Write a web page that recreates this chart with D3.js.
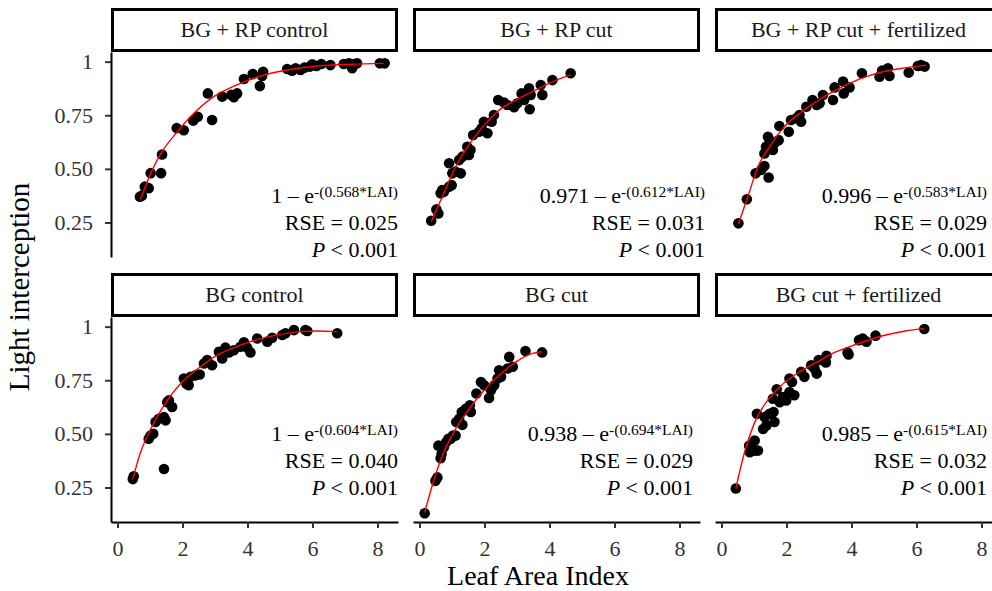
<!DOCTYPE html>
<html>
<head>
<meta charset="utf-8">
<script src="https://cdn.jsdelivr.net/npm/d3@7"></script>
<style>
    body { margin: 0; background: #fff; }
    svg { display: block; font-family: "Liberation Serif", "Times New Roman", serif; }
</style>
</head>
<body>
<svg id="chart" width="992" height="591"></svg>
<script>
// panel titles, in reading order
var panelTitles = ["BG + RP control", "BG + RP cut", "BG + RP cut + fertilized",
                   "BG control", "BG cut", "BG cut + fertilized"];

// fit annotations
var eqConst = ["1", "0.971", "0.996", "1", "0.938", "0.985"];
var eqRate = ["0.568", "0.612", "0.583", "0.604", "0.694", "0.615"];
var rseText = ["0.025", "0.031", "0.029", "0.040", "0.029", "0.032"];

// axis ticks
var xTicks = [0, 2, 4, 6, 8];
var yTicks = [0.25, 0.5, 0.75, 1];
var yTickLabels = ["0.25", "0.50", "0.75", "1"];

// observed points (LAI, light interception) per panel
var lai1 = [0.69, 0.75, 0.84, 0.96, 1.02, 1.34, 1.37, 1.82, 2.04, 2.33, 2.47, 2.78, 2.91, 3.22, 3.5, 3.58, 3.68, 3.89, 4.16, 4.38, 4.48, 4.45,
            5.22, 5.37, 5.48, 5.63, 5.75, 5.92, 5.99, 6.12, 6.27, 6.55, 6.96, 7.12, 7.27, 7.37, 7.22, 8.07, 8.22];
var li1 = [0.37, 0.375, 0.417, 0.41, 0.48, 0.48, 0.567, 0.69, 0.68, 0.725, 0.743, 0.852, 0.728, 0.837, 0.845, 0.834, 0.852, 0.919, 0.942, 0.886, 0.953, 0.933,
           0.966, 0.958, 0.969, 0.961, 0.972, 0.977, 0.988, 0.98, 0.989, 0.984, 0.989, 0.992, 0.989, 0.992, 0.969, 0.992, 0.992];

var lai2 = [0.36, 0.52, 0.58, 0.65, 0.70, 0.75, 0.91, 0.99, 0.91, 1.01, 1.11, 1.27, 1.22, 1.32, 1.47, 1.57, 1.52, 1.65, 1.83, 1.91, 1.98, 2.09,
            2.22, 2.29, 2.42, 2.6, 2.7, 2.91, 3.01, 3.14, 3.22, 3.37, 3.39, 3.42, 3.73, 3.78, 4.09, 4.65];
var li2 = [0.258, 0.311, 0.292, 0.386, 0.401, 0.393, 0.417, 0.424, 0.526, 0.479, 0.487, 0.479, 0.541, 0.557, 0.603, 0.588, 0.565, 0.658, 0.673, 0.689, 0.72, 0.666,
           0.72, 0.751, 0.821, 0.809, 0.798, 0.787, 0.806, 0.852, 0.821, 0.876, 0.778, 0.845, 0.891, 0.845, 0.914, 0.946];

var lai3 = [0.52, 0.78, 1.05, 1.22, 1.32, 1.45, 1.32, 1.37, 1.48, 1.43, 1.63, 1.76, 1.78, 1.58, 2.07, 2.14, 2.3, 2.4, 2.45,
            2.61, 2.8, 2.93, 3.12, 3.02, 3.43, 3.48, 3.74, 3.76, 3.94, 4.32, 4.86, 4.94, 5.12, 5.17, 5.76, 6.04, 6.14, 6.25];
var li3 = [0.246, 0.358, 0.479, 0.495, 0.513, 0.46, 0.572, 0.603, 0.634, 0.65, 0.619, 0.634, 0.7, 0.588, 0.673, 0.728, 0.736, 0.751, 0.72,
           0.79, 0.821, 0.798, 0.844, 0.806, 0.821, 0.88, 0.907, 0.852, 0.88, 0.946, 0.93, 0.958, 0.969, 0.933, 0.949, 0.98, 0.984, 0.977];

var lai4 = [0.47, 0.5, 1.43, 0.96, 1.02, 1.1, 1.17, 1.27, 1.43, 1.48, 1.53, 1.58, 1.68, 2.04, 2.12, 2.19, 2.25, 2.4, 2.53,
            2.66, 2.76, 2.91, 3.12, 3.22, 3.32, 3.43, 3.58, 3.78, 3.89, 3.99, 4.09, 4.3, 4.61, 4.76, 5.07, 5.17, 5.43, 5.78, 5.84, 6.76];
var li4 = [0.289, 0.302, 0.336, 0.477, 0.492, 0.5, 0.555, 0.57, 0.578, 0.563, 0.648, 0.656, 0.625, 0.758, 0.734, 0.727, 0.766, 0.773, 0.777,
           0.828, 0.844, 0.82, 0.883, 0.852, 0.902, 0.88, 0.89, 0.906, 0.927, 0.902, 0.88, 0.945, 0.93, 0.948, 0.961, 0.969, 0.984, 0.984, 0.98, 0.969];

var lai5 = [0.16, 0.49, 0.55, 0.58, 0.65, 0.68, 0.75, 0.82, 0.89, 0.96, 1.03, 1.11, 1.13, 1.22, 1.32, 1.3, 1.42, 1.55, 1.58,
            1.75, 1.89, 1.99, 2.14, 2.2, 2.3, 2.4, 2.51, 2.45, 2.71, 2.76, 2.87, 3.26, 3.77];
var li5 = [0.13, 0.281, 0.297, 0.445, 0.386, 0.406, 0.438, 0.461, 0.477, 0.477, 0.492, 0.492, 0.555, 0.57, 0.542, 0.602, 0.617, 0.633, 0.602,
           0.688, 0.742, 0.727, 0.667, 0.703, 0.727, 0.758, 0.766, 0.797, 0.805, 0.859, 0.813, 0.886, 0.88];

var lai6 = [0.44, 0.87, 0.92, 1.02, 1.12, 0.85, 1.02, 1.09, 1.28, 1.38, 1.33, 1.48, 1.63, 1.6, 1.58, 1.7, 1.79, 1.89, 1.99,
            2.09, 2.17, 2.24, 2.09, 2.45, 2.55, 2.76, 2.86, 2.93, 2.99, 3.23, 3.21, 3.88, 3.91, 4.23, 4.34, 4.46, 4.74, 6.24];
var li6 = [0.245, 0.414, 0.438, 0.422, 0.422, 0.445, 0.469, 0.594, 0.523, 0.539, 0.578, 0.594, 0.555, 0.602, 0.664, 0.708, 0.648, 0.672, 0.656,
           0.758, 0.742, 0.68, 0.695, 0.789, 0.766, 0.82, 0.805, 0.781, 0.844, 0.864, 0.833, 0.88, 0.87, 0.937, 0.945, 0.93, 0.958, 0.989];

// fitted curves
var fitX1 = [0.71, 1.02, 1.37, 1.84, 2.35, 2.96, 3.58, 4.4, 5.22, 6.14, 7.17, 8.19];
var fitY1 = [0.358, 0.479, 0.58, 0.673, 0.759, 0.837, 0.886, 0.933, 0.961, 0.98, 0.988, 0.992];
var fitX2 = [0.36, 0.70, 1.11, 1.63, 2.04, 2.45, 2.96, 3.47, 3.98, 4.65];
var fitY2 = [0.254, 0.37, 0.51, 0.635, 0.712, 0.774, 0.821, 0.86, 0.899, 0.938];
var fitX3 = [0.52, 0.81, 1.12, 1.48, 1.89, 2.4, 2.91, 3.43, 3.94, 4.45, 4.96, 5.68, 6.3];
var fitY3 = [0.243, 0.37, 0.51, 0.603, 0.689, 0.759, 0.813, 0.86, 0.899, 0.93, 0.953, 0.972, 0.984];
var fitX4 = [0.47, 0.71, 1.02, 1.43, 2.04, 2.55, 3.07, 3.58, 4.09, 4.81, 5.63, 6.14, 6.76];
var fitY4 = [0.289, 0.414, 0.523, 0.633, 0.75, 0.813, 0.867, 0.902, 0.93, 0.958, 0.977, 0.98, 0.977];
var fitX5 = [0.16, 0.39, 0.7, 1.11, 1.53, 1.94, 2.45, 2.97, 3.48, 3.77];
var fitY5 = [0.133, 0.258, 0.398, 0.523, 0.617, 0.695, 0.773, 0.836, 0.875, 0.883];
var fitX6 = [0.44, 0.71, 1.07, 1.38, 1.79, 2.4, 2.91, 3.42, 3.93, 4.44, 5.05, 5.66, 6.24];
var fitY6 = [0.245, 0.414, 0.57, 0.648, 0.719, 0.789, 0.833, 0.875, 0.906, 0.933, 0.961, 0.98, 0.992];

var pointsX = [lai1, lai2, lai3, lai4, lai5, lai6];
var pointsY = [li1, li2, li3, li4, li5, li6];
var fitsX = [fitX1, fitX2, fitX3, fitX4, fitX5, fitX6];
var fitsY = [fitY1, fitY2, fitY3, fitY4, fitY5, fitY6];

// layout
var colLeft = [111, 413, 715],
    rowTop = [8, 273],
    panelW = 287,
    stripH = 44,
    panelH = 205;
var labelRight = [287, 292, 272, 287, 280, 272];
var labelBase = [[151, 178, 205], [124, 151, 178]];

var svg = d3.select("#chart");

var x = d3.scaleLinear().domain([-0.2, 8.63]).range([0, panelW]);
var y = d3.scaleLinear().domain([0.089, 1.045]).range([panelH, 0]);

var line = d3.line()
    .x(function (d) { return x(d[0]); })
    .y(function (d) { return y(d[1]); })
    .curve(d3.curveMonotoneX);

panelTitles.forEach(function (title, i) {
    var col = i % 3,
        row = Math.floor(i / 3);

    var g = svg.append("g")
        .attr("transform", "translate(" + colLeft[col] + "," + rowTop[row] + ")");

    // strip
    g.append("rect")
        .attr("x", 1.5).attr("y", 1.5)
        .attr("width", panelW - 3).attr("height", stripH - 3)
        .attr("fill", "#fff")
        .attr("stroke", "#000")
        .attr("stroke-width", 3);

    g.append("text")
        .attr("x", panelW / 2)
        .attr("y", stripH / 2 + 7)
        .attr("text-anchor", "middle")
        .attr("font-size", 22)
        .attr("fill", "#1a1a1a")
        .text(title);

    var plot = g.append("g")
        .attr("transform", "translate(0," + stripH + ")");

    // axes
    if (col === 0) {
        var ya = plot.append("g")
            .call(d3.axisLeft(y)
                .tickValues(yTicks)
                .tickFormat(function (d, k) { return yTickLabels[k]; })
                .tickSize(6)
                .tickSizeOuter(0)
                .tickPadding(12));
        ya.select(".domain").attr("stroke", "#000").attr("stroke-width", 2);
        ya.selectAll(".tick line").attr("stroke", "#333").attr("stroke-width", 2);
        ya.selectAll(".tick text")
            .attr("font-size", 22)
            .attr("font-family", "Liberation Serif, serif")
            .attr("fill", "#333");
    }
    if (row === 1) {
        var xa = plot.append("g")
            .attr("transform", "translate(0," + panelH + ")")
            .call(d3.axisBottom(x)
                .tickValues(xTicks)
                .tickSize(6)
                .tickSizeOuter(0)
                .tickPadding(12));
        xa.select(".domain").attr("stroke", "#000").attr("stroke-width", 2);
        xa.selectAll(".tick line").attr("stroke", "#333").attr("stroke-width", 2);
        xa.selectAll(".tick text")
            .attr("font-size", 22)
            .attr("font-family", "Liberation Serif, serif")
            .attr("fill", "#333");
    }

    // points
    var pts = pointsX[i].map(function (v, k) { return [v, pointsY[i][k]]; });
    plot.selectAll("circle").data(pts)
        .enter().append("circle")
        .attr("cx", function (d) { return x(d[0]); })
        .attr("cy", function (d) { return y(d[1]); })
        .attr("r", 5.3)
        .attr("fill", "#000");

    // fitted curve
    var fit = fitsX[i].map(function (v, k) { return [v, fitsY[i][k]]; });
    plot.append("path")
        .datum(fit)
        .attr("d", line)
        .attr("fill", "none")
        .attr("stroke", "#ff0000")
        .attr("stroke-width", 1.4);

    // annotations
    var ax = labelRight[i],
        base = labelBase[row];

    var eq = plot.append("text")
        .attr("x", ax).attr("y", base[0])
        .attr("text-anchor", "end")
        .attr("font-size", 22)
        .attr("fill", "#000");
    eq.append("tspan").text(eqConst[i] + " \u2013 e");
    eq.append("tspan")
        .attr("font-size", 15.5)
        .attr("dy", -6)
        .text("-(" + eqRate[i] + "*LAI)");

    plot.append("text")
        .attr("x", ax).attr("y", base[1])
        .attr("text-anchor", "end")
        .attr("font-size", 22)
        .attr("fill", "#000")
        .text("RSE = " + rseText[i]);

    var p = plot.append("text")
        .attr("x", ax).attr("y", base[2])
        .attr("text-anchor", "end")
        .attr("font-size", 22)
        .attr("fill", "#000");
    p.append("tspan").attr("font-style", "italic").text("P");
    p.append("tspan").text(" < 0.001");
});

// axis titles
svg.append("text")
    .attr("x", 538)
    .attr("y", 585)
    .attr("text-anchor", "middle")
    .attr("font-size", 28)
    .attr("fill", "#000")
    .text("Leaf Area Index");

svg.append("text")
    .attr("transform", "translate(29,287) rotate(-90)")
    .attr("text-anchor", "middle")
    .attr("font-size", 29)
    .attr("fill", "#000")
    .text("Light interception");
</script>
</body>
</html>
